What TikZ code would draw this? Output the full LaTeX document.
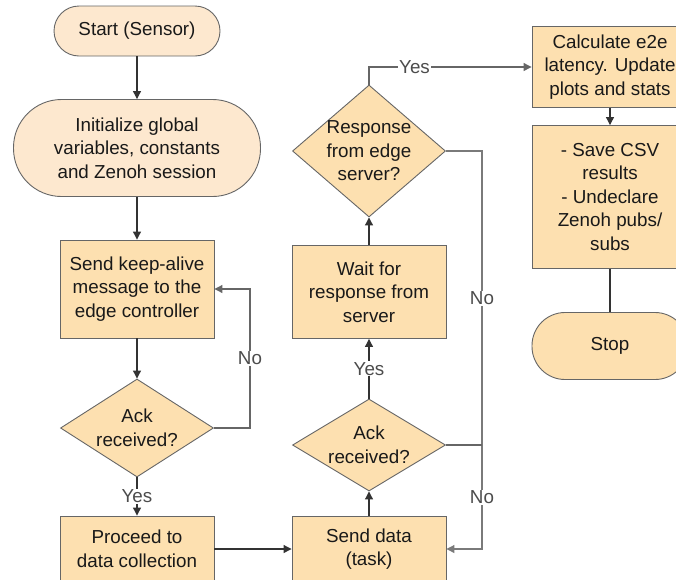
\documentclass[tikz,border=0pt]{standalone}
\usepackage{fontspec}
\setmainfont{Liberation Sans}
\usetikzlibrary{arrows.meta,shapes.geometric}
\definecolor{BoxClr}{HTML}{FDE0B0}
\definecolor{TermClr}{HTML}{FDE8CF}
\definecolor{LineClr}{HTML}{333333}
\definecolor{EdgeClr}{HTML}{666666}
\definecolor{NoClr}{HTML}{7A7A7A}

\tikzset{
  base/.style={draw=EdgeClr,line width=0.9pt,align=center,inner sep=0pt,
    font=\fontsize{18.8}{23.5}\selectfont,text=black!90},
  procbox/.style={base,rectangle,fill=BoxClr,minimum width=154pt},
  termbox/.style={base,rectangle,rounded corners=#1,fill=TermClr},
  stopbox/.style={base,rectangle,rounded corners=33pt,fill=BoxClr,minimum width=156pt,minimum height=67pt},
  decbox/.style={base,diamond,fill=BoxClr,minimum width=153pt},
  flow/.style={draw=LineClr,line width=1.1pt,-{Triangle[length=8pt,width=8pt]}},
  ans/.style={fill=white,inner sep=1pt,text=black!70,font=\fontsize{18.8}{20}\selectfont}
}

\begin{document}
\begin{tikzpicture}[x=1pt,y=-1pt]
\useasboundingbox (0,0) rectangle (676,579);
\clip (0,0) rectangle (676,579);

% left column
\node[termbox=25pt,minimum width=166pt,minimum height=50pt] (start) at (137,31) {Start (Sensor)};
\node[termbox=48pt,minimum width=247pt,minimum height=97pt] (init) at (137,148)
  {Initialize global\\variables, constants\\and Zenoh session};
\node[procbox,minimum height=98pt] (keep) at (137,289)
  {Send keep-alive\\message to the\\edge controller};
\node[decbox,minimum height=98pt,label={[base,draw=none,fill=none]center:{Ack\\received?}}] (ack1) at (137,428) {};
\node[procbox,minimum height=66pt] (proceed) at (137,549) {Proceed to\\data collection};

% middle column
\node[procbox,minimum height=66pt] (send) at (369,549) {Send data\\(task)};
\node[decbox,minimum height=92pt,label={[base,draw=none,fill=none]center:{Ack\\received?}}] (ack2) at (369,445) {};
\node[procbox,minimum height=93pt] (wait) at (369,292) {Wait for\\response from\\server};
\node[decbox,minimum height=132pt,label={[base,draw=none,fill=none]center:{Response\\from edge\\server?}}] (resp) at (369,151) {};

% right column
\node[procbox,minimum width=156pt,minimum height=81pt] (calc) at (610,67)
  {Calculate e2e\\latency. Update\\plots and stats};
\node[procbox,minimum width=156pt,minimum height=143pt] (save) at (610,197)
  {- Save CSV\\results\\- Undeclare\\Zenoh pubs/\\subs};
\node[stopbox] (stop) at (610,346) {Stop};

\coordinate (loopA) at (250,428);
\coordinate (loopB) at (482,151);
\coordinate (loopC) at (482,549);
\coordinate (loopD) at (482,445);

% connectors
\draw[flow] (start) -- (init);
\draw[flow] (init) -- (keep);
\draw[flow] (keep) -- (ack1);
\draw[flow,draw=EdgeClr] (ack1.east) -- (loopA) |- node[ans,pos=0.25] {No} (keep.east);
\draw[flow] (ack1) -- node[ans] {Yes} (proceed);
\draw[flow] (proceed) -- (send);
\draw[flow] (send) -- (ack2);
\draw[flow] (ack2) -- node[ans] {Yes} (wait);
\draw[flow] (wait) -- (resp);
\draw[flow,draw=EdgeClr] (resp.north) |- node[ans,pos=0.64] {Yes} (calc.west);
\draw[flow,draw=NoClr] (resp.east) -- (loopB) -- node[ans,pos=0.37] {No} node[ans,pos=0.87] {No} (loopC) -- (send.east);
\draw[draw=EdgeClr,line width=1.1pt] (ack2.east) -- (loopD);
\draw[flow] (calc) -- (save);
\draw[draw=LineClr,line width=1.1pt] (save) -- (stop);

\end{tikzpicture}
\end{document}
